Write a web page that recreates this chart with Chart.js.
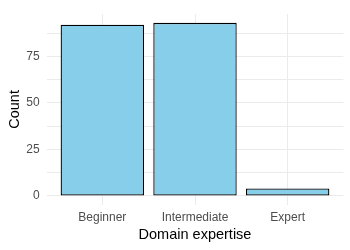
<!DOCTYPE html>
<html>
<head>
<meta charset="utf-8">
<script src="https://cdn.jsdelivr.net/npm/chart.js@4"></script>
<style>
  html, body { margin: 0; padding: 0; background: #fff; }
  #wrap { width: 350px; height: 250px; }
</style>
</head>
<body>
<div id="wrap"><canvas id="chart-expertise"></canvas></div>
<script>
// data
const categories = ['Beginner', 'Intermediate', 'Expert'];
const counts = [92, 93, 4];
const yTickLabels = [0, 25, 50, 75];
const yMinorTicks = [12.5, 37.5, 62.5, 87.5];

// options
const BAR_FILL = '#87CEEB';
const GRID_COLOR = '#EBEBEB';
const TEXT_COLOR = '#4D4D4D';
const FONT = "'Liberation Sans', Arial, sans-serif";

// ggplot-like expansion of the axes
const yTop = Math.max(...counts);
const yPad = yTop * 0.05;

const chartElement = document.querySelector('#chart-expertise');

new Chart(chartElement, {
  type: 'bar',
  data: {
    datasets: [
      {
        label: 'Count',
        data: counts.map((c, i) => ({ x: i + 1, y: c })),
        backgroundColor: BAR_FILL,
        borderColor: '#000',
        borderWidth: 1.3,
        borderSkipped: false,
        categoryPercentage: 1,
        barPercentage: 0.9,
      },
    ],
  },
  options: {
    responsive: true,
    maintainAspectRatio: false,
    animation: false,
    layout: { padding: { left: 0, right: 6.7, top: 7.7, bottom: 0 } },
    scales: {
      x: {
        type: 'linear',
        offset: false,
        min: 0.4,
        max: categories.length + 0.6,
        afterBuildTicks: (scale) => {
          scale.ticks = categories.map((c, i) => ({ value: i + 1 }));
        },
        afterFit: (scale) => { scale.height = 45.4; },
        border: { display: false },
        grid: { color: GRID_COLOR, lineWidth: 1, drawTicks: false, offset: false },
        ticks: {
          padding: 6,
          color: TEXT_COLOR,
          font: { family: FONT, size: 12 },
          maxRotation: 0,
          autoSkip: false,
          callback: (value) => categories[value - 1],
        },
        title: {
          display: true,
          text: 'Domain expertise',
          color: '#000',
          font: { family: FONT, size: 14.5 },
          padding: { top: 0, bottom: 6 },
        },
      },
      y: {
        min: -yPad,
        max: yTop + yPad,
        afterBuildTicks: (scale) => {
          scale.ticks = [...yTickLabels, ...yMinorTicks]
            .sort((a, b) => a - b)
            .map((v) => ({ value: v }));
        },
        afterFit: (scale) => { scale.width = 46.7; },
        border: { display: false },
        grid: { color: GRID_COLOR, lineWidth: 1, drawTicks: false },
        ticks: {
          padding: 7,
          color: TEXT_COLOR,
          font: { family: FONT, size: 12 },
          autoSkip: false,
          callback: (value) => (yTickLabels.includes(value) ? String(value) : ''),
        },
        title: {
          display: true,
          text: 'Count',
          color: '#000',
          font: { family: FONT, size: 14.5 },
          padding: { top: 6, bottom: 0 },
        },
      },
    },
    plugins: {
      legend: { display: false },
      tooltip: { enabled: false },
    },
  },
});
</script>
</body>
</html>
